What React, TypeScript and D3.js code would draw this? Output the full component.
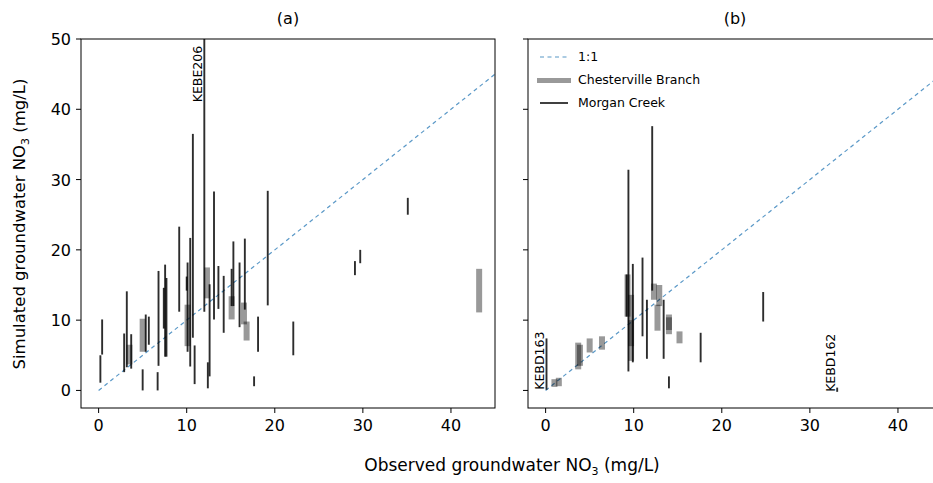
import React from "react";
import * as d3 from "d3";

// [observed x, simulated min, simulated max]
const morganA: [number, number, number][] = [
  [0.2, 1.1, 5.0], [0.4, 5.1, 10.1], [2.9, 2.6, 8.1], [3.2, 3.3, 14.1], [3.7, 3.1, 8.0],
  [5.0, 0.0, 3.0], [5.35, 5.5, 10.8], [5.7, 6.5, 10.5], [6.7, 0.0, 2.6], [6.8, 3.5, 17.0],
  [7.4, 8.8, 14.6], [7.55, 4.8, 17.9], [7.7, 4.8, 16.0], [9.15, 11.2, 23.3], [10.0, 14.2, 16.2],
  [10.1, 5.5, 18.2], [10.4, 3.4, 21.7], [10.7, 7.5, 36.5], [10.9, 0.9, 6.4], [12.0, 11.2, 55],
  [12.4, 0.3, 4.0], [12.6, 2.0, 15.1], [13.1, 10.1, 28.3], [13.6, 11.6, 17.7], [14.2, 8.2, 16.3],
  [15.1, 12.0, 17.3], [15.3, 12.0, 21.2], [16.0, 9.0, 18.2], [16.6, 11.5, 21.6], [17.65, 0.6, 2.0],
  [18.1, 5.5, 10.5], [19.2, 12.1, 28.4], [22.1, 5.0, 9.8], [29.1, 16.4, 18.4], [29.7, 18.1, 20.0],
  [35.1, 25.0, 27.4],
];
const chesterA: [number, number, number][] = [
  [3.5, 3.7, 6.5], [5.0, 5.5, 10.2], [10.1, 6.3, 12.2], [12.3, 13.1, 17.5], [15.1, 10.1, 13.4],
  [16.5, 9.4, 12.5], [16.8, 7.1, 9.8], [43.2, 11.1, 17.3],
];
const morganB: [number, number, number][] = [
  [0.1, 0.1, 7.4], [9.2, 10.5, 16.5], [9.4, 2.7, 31.4], [9.9, 4.0, 18.0], [11.0, 7.7, 18.9],
  [11.5, 4.5, 12.9], [12.1, 14.2, 37.6], [13.4, 4.5, 12.9], [14.0, 0.3, 2.0], [17.6, 4.0, 8.2],
  [24.7, 9.8, 14.0], [33.1, -0.2, 0.4],
];
const chesterB: [number, number, number][] = [
  [1.0, 0.5, 1.6], [1.5, 0.6, 1.8], [3.7, 3.0, 6.8], [3.9, 3.5, 6.5], [5.0, 5.4, 7.4],
  [6.4, 5.8, 7.7], [9.7, 6.3, 13.6], [9.7, 4.2, 10.0], [9.3, 10.5, 16.5], [12.3, 12.9, 15.2],
  [12.9, 12.0, 15.0], [12.7, 8.5, 12.2], [14.0, 8.0, 10.8], [14.0, 8.6, 10.4], [15.2, 6.7, 8.4],
];
// [x, y, label]
const labelsA: [number, number, string][] = [[12.0, 41, "KEBE206"]];
const labelsB: [number, number, string][] = [[0.1, 0.1, "KEBD163"], [33.1, -0.2, "KEBD162"]];

const xTicks = [0, 10, 20, 30, 40];
const yTicks = [0, 10, 20, 30, 40, 50];
const legendItems = ["1:1", "Chesterville Branch", "Morgan Creek"];

const W = 933, H = 483;
const top = 39, bottom = 408;
const panelW = 414;
const panels = [
  { left: 81, title: "(a)", morgan: morganA, chester: chesterA, labels: labelsA, yLabels: true, legend: false },
  { left: 528, title: "(b)", morgan: morganB, chester: chesterB, labels: labelsB, yLabels: false, legend: true },
];
const font = "DejaVu Sans, sans-serif";

function Panel({ p, idx }: { p: any; idx: number }) {
  const x = d3.scaleLinear().domain([-2, 45]).range([p.left, p.left + panelW]);
  const y = d3.scaleLinear().domain([-2.5, 50]).range([bottom, top]);
  const clipId = `clip${idx}`;
  const diag = d3.line<number>().x((d) => x(d)).y((d) => y(d));
  return (
    <g>
      <defs>
        <clipPath id={clipId}>
          <rect x={p.left} y={top} width={panelW} height={bottom - top} />
        </clipPath>
      </defs>
      <g clipPath={`url(#${clipId})`}>
        <path d={diag([0, 46]) || ""} stroke="#3d86bd" strokeWidth={1.2} strokeDasharray="4,3.5" fill="none" opacity={0.85} />
        {p.chester.map((d: number[], i: number) => (
          <rect key={"c" + i} x={x(d[0]) - 3} y={y(d[2])} width={6} height={y(d[1]) - y(d[2])} fill="#000" opacity={0.4} />
        ))}
        {p.morgan.map((d: number[], i: number) => (
          <line key={"m" + i} x1={x(d[0])} x2={x(d[0])} y1={y(d[1])} y2={y(d[2])} stroke="#000" strokeWidth={1.9} opacity={0.82} />
        ))}
        {p.labels.map((d: any, i: number) => (
          <text key={"l" + i} transform={`translate(${x(d[0]) - 2},${y(d[1])}) rotate(-90)`} fontSize={12.5} fontFamily={font} fill="#000">
            {d[2]}
          </text>
        ))}
      </g>
      <rect x={p.left} y={top} width={panelW} height={bottom - top} fill="none" stroke="#000" strokeWidth={1} />
      {xTicks.map((t) => (
        <g key={"x" + t}>
          <line x1={x(t)} x2={x(t)} y1={bottom} y2={bottom + 5} stroke="#000" />
          <text x={x(t)} y={bottom + 23} textAnchor="middle" fontSize={16} fontFamily={font}>{t}</text>
        </g>
      ))}
      {yTicks.map((t) => (
        <g key={"y" + t}>
          <line x1={p.left - 5} x2={p.left} y1={y(t)} y2={y(t)} stroke="#000" />
          {p.yLabels && (
            <text x={p.left - 10} y={y(t) + 6} textAnchor="end" fontSize={16} fontFamily={font}>{t}</text>
          )}
        </g>
      ))}
      <text x={p.left + panelW / 2} y={24} textAnchor="middle" fontSize={16} fontFamily={font}>{p.title}</text>
      {p.legend && (
        <g fontFamily={font} fontSize={12.5}>
          <line x1={540} x2={568} y1={57} y2={57} stroke="#3d86bd" strokeWidth={1.2} strokeDasharray="4,3.5" opacity={0.85} />
          <rect x={537} y={78} width={34} height={5} fill="#000" opacity={0.4} />
          <line x1={540} x2={568} y1={103} y2={103} stroke="#000" strokeWidth={1.5} />
          {legendItems.map((s, i) => (
            <text key={s} x={578} y={61 + i * 23}>{s}</text>
          ))}
        </g>
      )}
    </g>
  );
}

export default function App() {
  return (
    <svg width={W} height={H} style={{ position: "absolute", left: 0, top: 0, background: "#fff" }}>
      <rect width={W} height={H} fill="#fff" />
      {panels.map((p, i) => <Panel key={i} p={p} idx={i} />)}
      <text x={512} y={471} textAnchor="middle" fontSize={17} fontFamily={font}>
        Observed groundwater NO<tspan baselineShift="-4" fontSize={11}>3</tspan><tspan> (mg/L)</tspan>
      </text>
      <text transform="translate(25,224) rotate(-90)" textAnchor="middle" fontSize={16.5} fontFamily={font}>
        Simulated groundwater NO<tspan baselineShift="-4" fontSize={11}>3</tspan><tspan> (mg/L)</tspan>
      </text>
    </svg>
  );
}
